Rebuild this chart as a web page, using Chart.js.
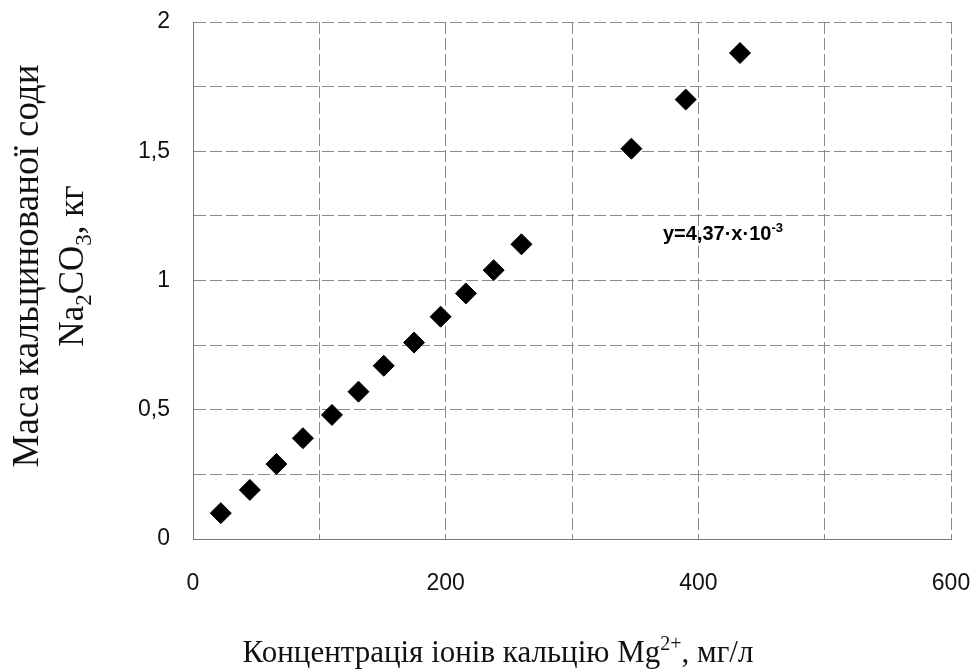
<!DOCTYPE html>
<html>
<head>
<meta charset="utf-8">
<script src="https://cdn.jsdelivr.net/npm/chart.js@4.4.0/dist/chart.umd.min.js"></script>
<style>
  html, body { margin: 0; padding: 0; background: #fff; }
  #wrap { width: 976px; height: 671px; position: relative; }
</style>
</head>
<body>
<div id="wrap"><canvas id="chart"></canvas></div>
<script>
// Concentration of Mg2+ ions, mg/l
const concentration = [22, 45, 66, 87, 110, 131, 151, 175, 196, 216, 238, 260, 347, 390, 433];
// Mass of soda ash Na2CO3, kg
const sodaMass = [0.10, 0.19, 0.29, 0.39, 0.48, 0.57, 0.67, 0.76, 0.86, 0.95, 1.04, 1.14, 1.51, 1.70, 1.88];

const xTickLabels = ['0', '200', '400', '600'];
const yTickLabels = ['0', '0,5', '1', '1,5', '2'];

// where the formula label sits, in data units
const formulaAt = { x: 372, y: 1.157 };

const points = concentration.map((c, i) => ({ x: c, y: sodaMass[i] }));

// draw a line of text made of runs, some of them sub/superscript
function drawRuns(ctx, runs, x, y, size, family, align, weight) {
  const w = weight ? weight + ' ' : '';
  let total = 0;
  runs.forEach(r => {
    ctx.font = w + (r.sub || r.sup ? Math.round(size * 0.65) : size) + 'px ' + family;
    r.w = ctx.measureText(r.t).width;
    total += r.w;
  });
  let cx = align === 'center' ? x - total / 2 : x;
  runs.forEach(r => {
    ctx.font = w + (r.sub || r.sup ? Math.round(size * 0.65) : size) + 'px ' + family;
    let dy = 0;
    if (r.sub) dy = size * 0.22;
    if (r.sup) dy = -size * 0.38;
    ctx.fillText(r.t, cx, y + dy);
    cx += r.w;
  });
}

const titles = {
  id: 'titles',
  afterDraw(chart) {
    const ctx = chart.ctx;
    const serif = '"Liberation Serif", "Times New Roman", serif';
    ctx.save();
    ctx.fillStyle = '#111';
    ctx.textBaseline = 'alphabetic';
    ctx.textAlign = 'left';
    // x axis title
    drawRuns(ctx, [
      { t: 'Концентрація іонів кальцію Mg' },
      { t: '2+', sup: true },
      { t: ', мг/л' }
    ], 498, 662, 31, serif, 'center');
    // y axis title, two lines rotated
    ctx.translate(0, 266);
    ctx.rotate(-Math.PI / 2);
    drawRuns(ctx, [{ t: 'Маса кальцинованої соди' }], 0, 38, 37, serif, 'center');
    drawRuns(ctx, [
      { t: 'Na' }, { t: '2', sub: true }, { t: 'CO' }, { t: '3', sub: true }, { t: ', кг' }
    ], 0, 83, 35, serif, 'center');
    ctx.restore();

    // formula label
    const px = chart.scales.x.getPixelForValue(formulaAt.x);
    const py = chart.scales.y.getPixelForValue(formulaAt.y);
    ctx.save();
    ctx.fillStyle = '#000';
    ctx.textBaseline = 'alphabetic';
    ctx.textAlign = 'left';
    drawRuns(ctx, [{ t: 'y=4,37·x·10' }, { t: '-3', sup: true }], px, py, 20,
      '"Liberation Sans", Arial, sans-serif', 'left', 'bold');
    ctx.restore();
  }
};

const gridStyle = {
  color: '#8a8a8a',
  lineWidth: 1,
  drawTicks: false
};

new Chart(document.getElementById('chart'), {
  type: 'scatter',
  data: {
    datasets: [{
      data: points,
      pointStyle: 'rectRot',
      pointRadius: 10.5,
      pointHoverRadius: 10.5,
      backgroundColor: '#000',
      borderColor: '#000',
      borderWidth: 1
    }]
  },
  options: {
    responsive: true,
    maintainAspectRatio: false,
    animation: false,
    events: [],
    layout: { padding: { top: 22, right: 25, left: 0, bottom: 0 } },
    plugins: {
      legend: { display: false },
      tooltip: { enabled: false }
    },
    scales: {
      x: {
        type: 'linear',
        min: 0, max: 600,
        afterFit: s => { s.height = 132; s.paddingLeft = 0; s.paddingRight = 0; },
        grid: gridStyle,
        border: { color: '#777', width: 1, dash: [12, 4] },
        ticks: {
          stepSize: 100,
          padding: 31,
          color: '#111',
          font: { family: '"Liberation Sans", Arial, sans-serif', size: 23 },
          maxRotation: 0,
          callback: v => (v % 200 === 0 ? xTickLabels[v / 200] : '')
        }
      },
      y: {
        type: 'linear',
        min: 0, max: 2,
        afterFit: s => { s.width = 193; s.paddingTop = 0; s.paddingBottom = 0; },
        grid: gridStyle,
        border: { color: '#777', width: 1, dash: [12, 4] },
        ticks: {
          stepSize: 0.25,
          padding: 23,
          color: '#111',
          font: { family: '"Liberation Sans", Arial, sans-serif', size: 23 },
          callback: v => {
            const k = Math.round(v * 4);
            return k % 2 === 0 ? yTickLabels[k / 2] : '';
          }
        }
      }
    }
  },
  plugins: [titles]
});
</script>
</body>
</html>
